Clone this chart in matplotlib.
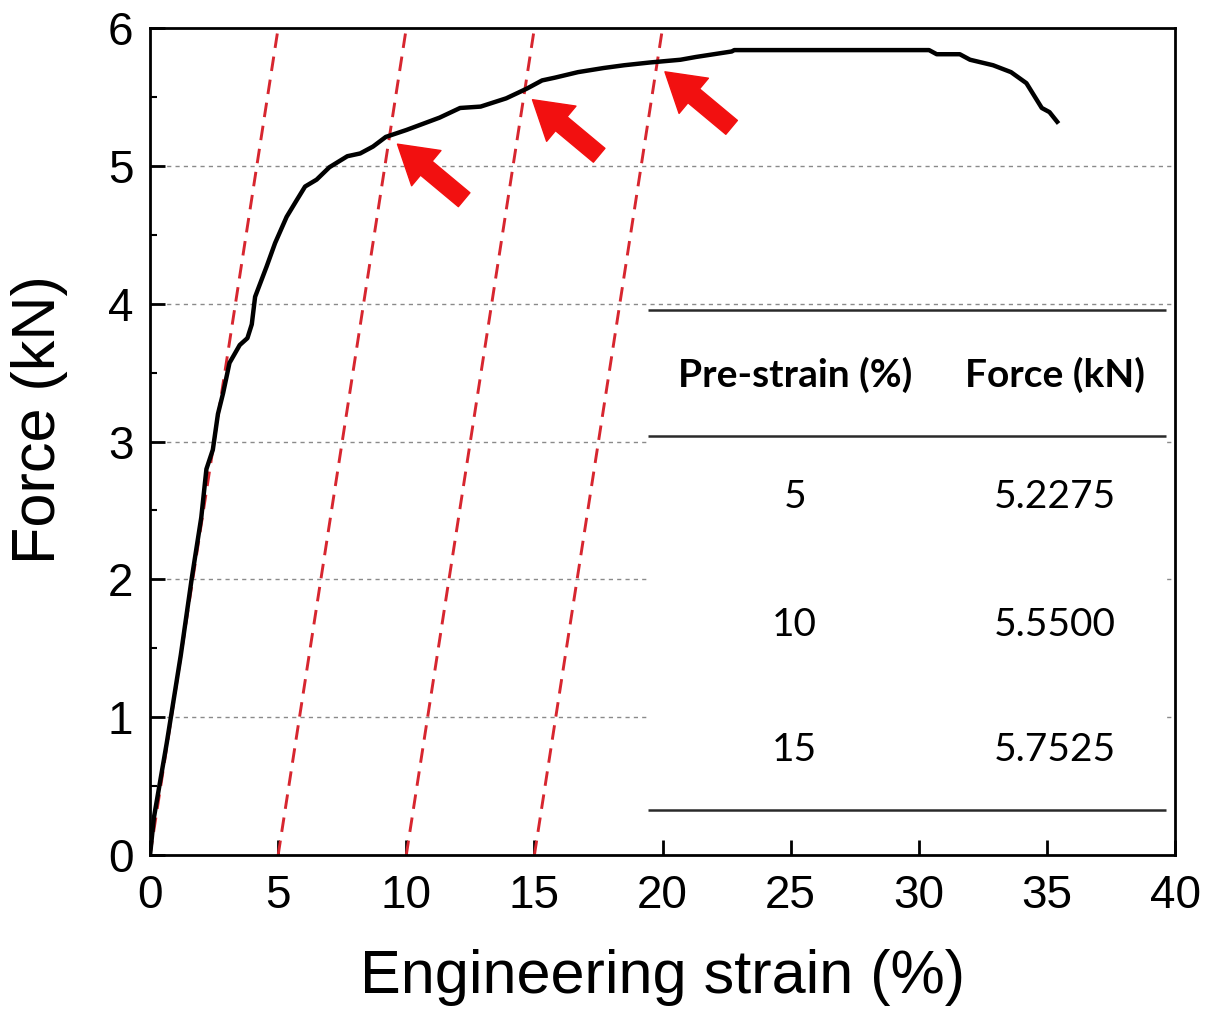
import numpy as np
import matplotlib
matplotlib.use('Agg')
import matplotlib.pyplot as plt

# tensile curve
strain = [0, 0.15, 0.65, 1.2, 1.63, 2.0, 2.2, 2.45, 2.65, 2.85, 3.1, 3.5, 3.8, 3.97,
          4.1, 4.55, 4.88, 5.33, 5.72, 6.05, 6.5, 7.0, 7.7, 8.2, 8.7, 9.2, 10.0, 11.3,
          12.1, 12.9, 13.9, 14.7, 15.3, 15.8, 16.7, 17.7, 18.5, 19.5, 20.7, 21.3, 22.7,
          22.8, 30.4, 30.7, 31.6, 32.0, 32.9, 33.6, 34.2, 34.5, 34.8, 35.1, 35.4]
force = [0, 0.27, 0.81, 1.45, 2.01, 2.45, 2.8, 2.94, 3.2, 3.35, 3.57, 3.70, 3.75, 3.85,
         4.05, 4.27, 4.44, 4.63, 4.75, 4.85, 4.90, 4.99, 5.07, 5.09, 5.14, 5.21, 5.26, 5.35,
         5.42, 5.43, 5.49, 5.56, 5.62, 5.64, 5.68, 5.71, 5.73, 5.75, 5.77, 5.79, 5.83,
         5.84, 5.84, 5.81, 5.81, 5.77, 5.73, 5.68, 5.60, 5.51, 5.42, 5.39, 5.32]

# offset lines (elastic slope, kN per %)
offsets = [0, 5, 10, 15]
slope = 1.2

# table
pre_strain = [5, 10, 15]
force_at = [5.2275, 5.5500, 5.7525]

plt.rcParams['font.family'] = ['Liberation Sans', 'DejaVu Sans']

fig = plt.figure(figsize=(12.11, 10.16), dpi=100)
ax = fig.add_axes([0.1239, 0.1585, 0.8464, 0.8139])

ax.set_xlim(0, 40)
ax.set_ylim(0, 6)
ax.set_xticks(np.arange(0, 41, 5))
ax.set_yticks(np.arange(0, 7, 1))
ax.set_yticks(np.arange(0.5, 6, 1), minor=True)

for y in range(1, 6):
    ax.axhline(y, color='#8a8a8a', lw=1.0, ls=(0, (3, 3)), zorder=1)

for p in offsets:
    ax.plot([p, p + 6 / slope], [0, 6], color='#d7262f', lw=2.1,
            ls=(0, (5, 3)), zorder=2)

ax.plot(strain, force, color='black', lw=3.2, zorder=3)

# arrows pointing at the intersections
for p, f in zip(pre_strain, force_at):
    xi = p + f / slope
    ax.annotate('', xy=(xi + 0.3, f - 0.07), xytext=(48, -40),
                textcoords='offset points',
                arrowprops=dict(arrowstyle='simple,head_length=27,head_width=33,tail_width=13',
                                mutation_scale=1, color='#f21010', shrinkA=0, shrinkB=0),
                zorder=5)

# inset table
tx0, tx1 = 0.486, 0.991
ax.add_patch(plt.Rectangle((tx0, 0.054), tx1 - tx0, 0.605, transform=ax.transAxes,
                           facecolor='white', edgecolor='none', zorder=4))
for yl in [0.659, 0.507, 0.054]:
    ax.plot([tx0, tx1], [yl, yl], transform=ax.transAxes, color='#2a2a2a',
            lw=1.8, zorder=5, solid_capstyle='butt')

col1, col2 = 0.629, 0.883
tfont = ['Lato', 'DejaVu Sans']
ax.text(col1, 0.580, 'Pre-strain (%)', transform=ax.transAxes, ha='center', va='center',
        fontsize=28, fontweight='bold', family=tfont, zorder=6)
ax.text(col2, 0.580, 'Force (kN)', transform=ax.transAxes, ha='center', va='center',
        fontsize=28, fontweight='bold', family=tfont, zorder=6)
row_y = [0.433, 0.278, 0.127]
for ry, p, f in zip(row_y, pre_strain, force_at):
    ax.text(col1, ry, str(p), transform=ax.transAxes, ha='center', va='center',
            fontsize=28, family=tfont, zorder=6)
    ax.text(col2, ry, '%.4f' % f, transform=ax.transAxes, ha='center', va='center',
            fontsize=28, family=tfont, zorder=6)

for s in ax.spines.values():
    s.set_linewidth(2.0)
ax.tick_params(which='major', direction='in', length=11, width=2, labelsize=33)
ax.tick_params(which='minor', direction='in', length=5, width=1.5)
ax.tick_params(axis='x', pad=14)
ax.tick_params(axis='y', pad=12)

ax.set_xlabel('Engineering strain (%)', fontsize=44)
ax.set_ylabel('Force (kN)', fontsize=44)
ax.xaxis.set_label_coords(0.5, -0.114)
ax.yaxis.set_label_coords(-0.080, 0.526)

fig.savefig('out.png', dpi=100)
